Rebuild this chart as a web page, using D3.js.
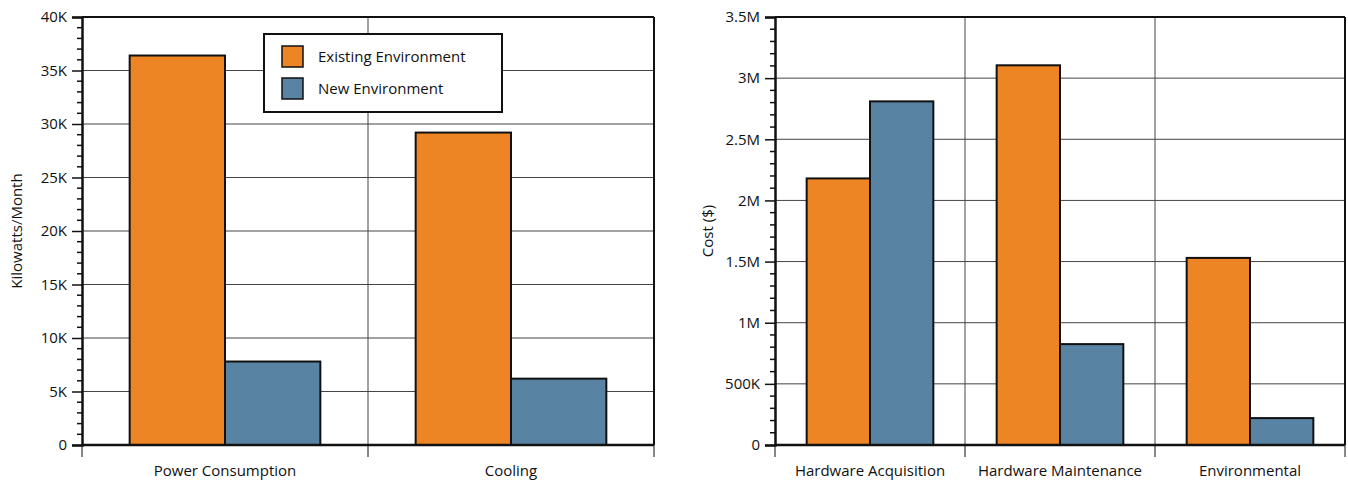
<!DOCTYPE html>
<html><head><meta charset="utf-8">
<script src="https://cdn.jsdelivr.net/npm/d3@7"></script>
<style>
body{margin:0;background:#fff;}
text{font-family:"Open Sans","Noto Sans",sans-serif;fill:#111;}
</style></head>
<body><svg id="c" width="1348" height="481"></svg>
<script>
const seriesNames = ["Existing Environment", "New Environment"];
const colors = ["#EE8524", "#5883A2"];

const powerCategories = ["Power Consumption", "Cooling"];
const powerExisting = [36400, 29200];
const powerNew = [7800, 6200];
const powerTicks = [0, 5000, 10000, 15000, 20000, 25000, 30000, 35000, 40000];
const powerTickLabels = ["0", "5K", "10K", "15K", "20K", "25K", "30K", "35K", "40K"];

const costCategories = ["Hardware Acquisition", "Hardware Maintenance", "Environmental"];
const costExisting = [2180000, 3105000, 1530000];
const costNew = [2810000, 825000, 220000];
const costTicks = [0, 500000, 1000000, 1500000, 2000000, 2500000, 3000000, 3500000];
const costTickLabels = ["0", "500K", "1M", "1.5M", "2M", "2.5M", "3M", "3.5M"];

const svg = d3.select("#c");
const FS = 15;

function chart(opt) {
  const {x0, x1, y0, y1, cats, s1, s2, ticks, labels, max, minorStep, title, titleX} = opt;
  const g = svg.append("g");
  const x = d3.scaleBand().domain(cats).range([x0, x1]).paddingInner(0).paddingOuter(0);
  const y = d3.scaleLinear().domain([0, max]).range([y1, y0]);
  const bw = x.bandwidth() / 3;

  g.selectAll(".hg").data(ticks.slice(1, -1)).join("line")
    .attr("x1", x0).attr("x2", x1).attr("y1", d => y(d)).attr("y2", d => y(d))
    .attr("stroke", "#444").attr("stroke-width", 1);
  g.selectAll(".vg").data(cats.slice(1)).join("line")
    .attr("x1", d => x(d)).attr("x2", d => x(d)).attr("y1", y0).attr("y2", y1)
    .attr("stroke", "#444").attr("stroke-width", 1);

  const data = cats.map((c, i) => ({c, v: [s1[i], s2[i]]}));
  data.forEach(d => {
    d.v.forEach((v, k) => {
      g.append("rect")
        .attr("x", x(d.c) + bw / 2 + k * bw).attr("y", y(v))
        .attr("width", bw).attr("height", y(0) - y(v))
        .attr("fill", colors[k]).attr("stroke", "#111").attr("stroke-width", 2);
    });
  });

  g.append("line").attr("x1", x0).attr("x2", x1).attr("y1", y0).attr("y2", y0).attr("stroke", "#111").attr("stroke-width", 2);
  g.append("line").attr("x1", x1).attr("x2", x1).attr("y1", y0).attr("y2", y1).attr("stroke", "#111").attr("stroke-width", 2);

  const ya = d3.axisLeft(y).tickValues(ticks).tickFormat((d, i) => labels[i]).tickSize(10).tickPadding(5);
  const yg = g.append("g").attr("transform", `translate(${x0},0)`).call(ya);
  yg.select(".domain").attr("stroke", "#111").attr("stroke-width", 2.5);
  yg.selectAll(".tick line").attr("stroke", "#111").attr("stroke-width", 1.5);
  yg.selectAll("text").attr("font-size", FS).attr("font-family", "'Open Sans',sans-serif").attr("fill", "#111");
  const minors = d3.range(0, max + 1, minorStep).filter(v => !ticks.includes(v));
  g.selectAll(".mn").data(minors).join("line")
    .attr("x1", x0 - 5).attr("x2", x0).attr("y1", d => y(d)).attr("y2", d => y(d))
    .attr("stroke", "#111").attr("stroke-width", 1.5);

  g.append("line").attr("x1", x0).attr("x2", x1).attr("y1", y1).attr("y2", y1).attr("stroke", "#111").attr("stroke-width", 2.5);
  const bounds = cats.map(c => x(c)).concat([x1]);
  g.selectAll(".xt").data(bounds).join("line")
    .attr("x1", d => d).attr("x2", d => d).attr("y1", y1).attr("y2", y1 + 12)
    .attr("stroke", "#111").attr("stroke-width", 1);
  g.selectAll(".xl").data(cats).join("text")
    .attr("x", d => x(d) + x.bandwidth() / 2).attr("y", y1 + 31)
    .attr("text-anchor", "middle").attr("font-size", FS).text(d => d);

  g.append("text").attr("transform", `translate(${titleX},${(y0 + y1) / 2}) rotate(-90)`)
    .attr("text-anchor", "middle").attr("font-size", FS).text(title);
}

chart({x0: 82, x1: 654, y0: 17, y1: 445, cats: powerCategories, s1: powerExisting, s2: powerNew,
  ticks: powerTicks, labels: powerTickLabels, max: 40000, minorStep: 1000, title: "Kilowatts/Month", titleX: 22});
chart({x0: 775, x1: 1345, y0: 17, y1: 445, cats: costCategories, s1: costExisting, s2: costNew,
  ticks: costTicks, labels: costTickLabels, max: 3500000, minorStep: 100000, title: "Cost ($)", titleX: 713});

const lg = svg.append("g");
lg.append("rect").attr("x", 264).attr("y", 34).attr("width", 238).attr("height", 78)
  .attr("fill", "#fff").attr("stroke", "#111").attr("stroke-width", 2);
seriesNames.forEach((n, i) => {
  lg.append("rect").attr("x", 282).attr("y", 46 + i * 32).attr("width", 21).attr("height", 21)
    .attr("fill", colors[i]).attr("stroke", "#111").attr("stroke-width", 1.5);
  lg.append("text").attr("x", 318).attr("y", 62 + i * 32).attr("font-size", FS).text(n);
});
</script></body></html>
